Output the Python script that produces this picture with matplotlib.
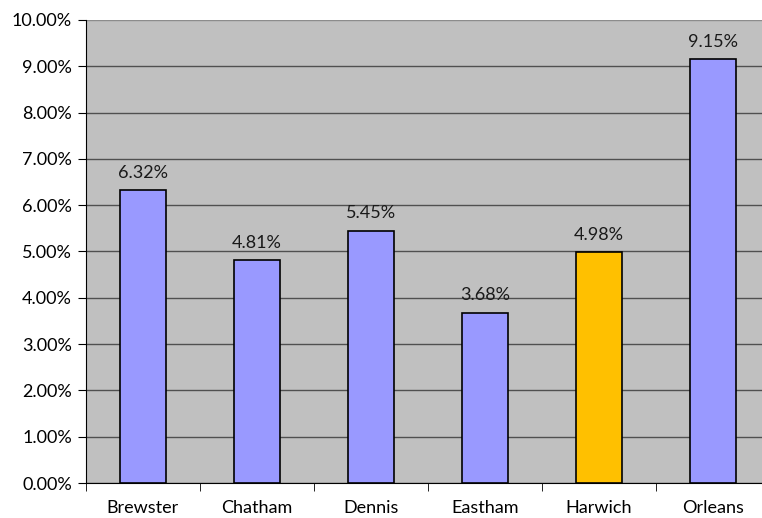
import matplotlib.pyplot as plt
import numpy as np

# chart data
towns = ['Brewster', 'Chatham', 'Dennis', 'Eastham', 'Harwich', 'Orleans']
rates = [6.32, 4.81, 5.45, 3.68, 4.98, 9.15]
bar_colors = ['#9999FF', '#9999FF', '#9999FF', '#9999FF', '#FFC000', '#9999FF']
y_ticks = [0, 1, 2, 3, 4, 5, 6, 7, 8, 9, 10]

plt.rcParams['font.family'] = ['Lato', 'DejaVu Sans']

fig = plt.figure(figsize=(7.62, 5.18), dpi=100)
# plot area runs slightly past the right edge of the image, as in the original
ax = fig.add_axes([86 / 762, 35 / 518, 684 / 762, 463 / 518])
ax.set_facecolor('#C0C0C0')

x = np.arange(len(towns))
ax.bar(x, rates, width=0.41, color=bar_colors, edgecolor='black', linewidth=1.2, zorder=3)

# value labels above each bar
for xi, v in zip(x, rates):
    ax.annotate(f'{v:.2f}%', (xi, v), xytext=(0, 7), textcoords='offset points',
                ha='center', va='bottom', fontsize=13, color='#1a1a1a')

ax.set_xlim(-0.5, len(towns) - 0.5)
ax.set_ylim(0, 10)
ax.set_yticks(y_ticks)
ax.set_yticklabels([f'{t:.2f}%' for t in y_ticks], fontsize=13)
ax.grid(axis='y', color='#505050', linewidth=1, zorder=1)
ax.get_ygridlines()[-1].set_color('#8c8c8c')

# category labels centred, tick marks between categories
ax.set_xticks(x)
ax.set_xticklabels(towns, fontsize=13)
ax.tick_params(axis='x', length=0, pad=12)
ax.set_xticks(np.arange(-0.5, len(towns)), minor=True)
ax.tick_params(axis='x', which='minor', length=6, color='black', direction='out')
ax.tick_params(axis='y', length=6, color='black', direction='out', pad=4)

for side in ['top', 'right']:
    ax.spines[side].set_visible(False)
ax.spines['left'].set_color('black')
ax.spines['bottom'].set_color('black')

fig.savefig('out.png', dpi=100)
